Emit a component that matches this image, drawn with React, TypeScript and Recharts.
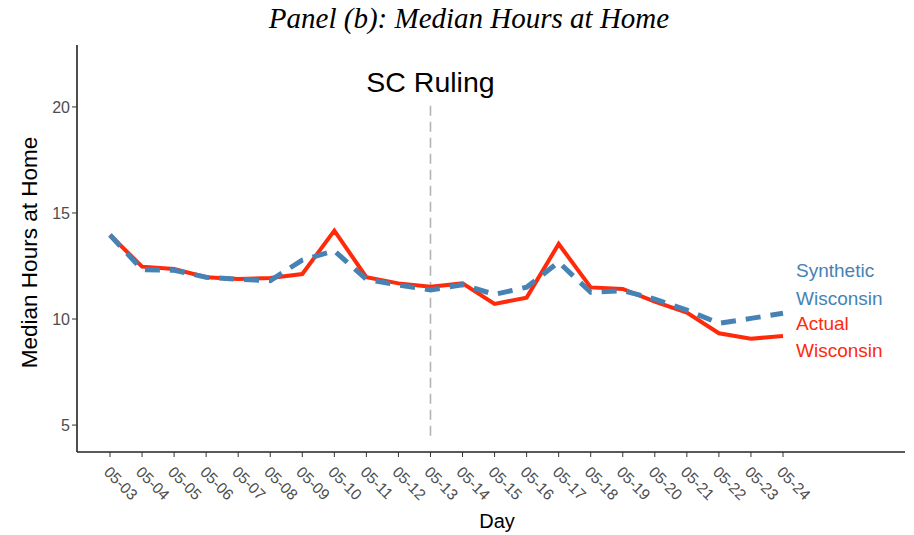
import React from 'react';
import { LineChart, Line, XAxis, YAxis, ReferenceLine, Label } from 'recharts';

const days = [
    '05-03', '05-04', '05-05', '05-06', '05-07', '05-08', '05-09', '05-10', '05-11', '05-12', '05-13',
    '05-14', '05-15', '05-16', '05-17', '05-18', '05-19', '05-20', '05-21', '05-22', '05-23', '05-24'
];
const actualWisconsin = [
    13.96, 12.47, 12.36, 11.97, 11.89, 11.93, 12.12, 14.17, 11.97, 11.68, 11.52,
    11.68, 10.71, 11.01, 13.54, 11.49, 11.42, 10.82, 10.30, 9.33, 9.07, 9.20
];
const syntheticWisconsin = [
    13.96, 12.33, 12.30, 11.97, 11.87, 11.81, 12.78, 13.22, 11.87, 11.60, 11.37,
    11.62, 11.16, 11.50, 12.68, 11.26, 11.34, 10.94, 10.42, 9.80, 10.03, 10.27
];
const yTicks = [5, 10, 15, 20];
const rulingDay = '05-13';
const rulingSpan = [4.5, 20.3];

const data = days.map((day, i) => ({
    day,
    actual: actualWisconsin[i],
    synthetic: syntheticWisconsin[i]
}));

const RED = '#ff2a0a';
const BLUE = '#4682b4';
const SANS = '"Liberation Sans", Arial, Helvetica, sans-serif';

const DayTick = (props: any) => {
    const { x, y, payload } = props;
    const tx = x - 7;
    const ty = y + 14;
    return (
        <text
            x={tx}
            y={ty}
            transform={`rotate(45, ${tx}, ${ty})`}
            textAnchor="start"
            fontSize={15.5}
            fill="#4d4d4d"
            fontFamily={SANS}
        >
            {payload.value}
        </text>
    );
};

export default function App() {
    return (
        <div style={{ position: 'absolute', left: 0, top: 0, width: 914, height: 535, background: '#fff', fontFamily: SANS }}>
            <LineChart width={914} height={535} data={data} margin={{ top: 45, right: 9, bottom: 23, left: 17 }}>
                <XAxis
                    dataKey="day"
                    interval={0}
                    padding={{ left: 33, right: 122 }}
                    axisLine={{ stroke: '#222', strokeWidth: 1.6 }}
                    tickLine={{ stroke: '#333' }}
                    tickSize={5}
                    tick={<DayTick />}
                    height={60}
                >
                    <Label
                        content={({ viewBox }: any) => (
                            <text
                                x={497}
                                y={viewBox.y + viewBox.height + 16}
                                textAnchor="middle"
                                fontSize={20}
                                fill="#000"
                                fontFamily={SANS}
                            >
                                Day
                            </text>
                        )}
                    />
                </XAxis>
                <YAxis
                    type="number"
                    domain={[3.73, 22.92]}
                    ticks={yTicks}
                    allowDataOverflow
                    width={60}
                    axisLine={{ stroke: '#222', strokeWidth: 1.6 }}
                    tickLine={{ stroke: '#333' }}
                    tickSize={5}
                    tick={{ fontSize: 16, fill: '#4d4d4d', fontFamily: SANS }}
                >
                    <Label
                        content={({ viewBox }: any) => {
                            const cx = 37;
                            const cy = viewBox.y + viewBox.height / 2 + 4;
                            return (
                                <text
                                    x={cx}
                                    y={cy}
                                    transform={`rotate(-90, ${cx}, ${cy})`}
                                    textAnchor="middle"
                                    fontSize={22.5}
                                    fill="#000"
                                    fontFamily={SANS}
                                >
                                    Median Hours at Home
                                </text>
                            );
                        }}
                    />
                </YAxis>
                <ReferenceLine
                    segment={[{ x: rulingDay, y: rulingSpan[0] }, { x: rulingDay, y: rulingSpan[1] }]}
                    stroke="#b3b3b3"
                    strokeWidth={1.6}
                    strokeDasharray="10 6"
                    label={{ value: 'SC Ruling', position: 'top', offset: 9, fontSize: 28.5, fill: '#000', fontFamily: SANS }}
                />
                {/* actual: solid red, drawn first */}
                <Line
                    type="linear"
                    dataKey="actual"
                    stroke={RED}
                    strokeWidth={4}
                    dot={false}
                    isAnimationActive={false}
                />
                {/* synthetic: dashed steelblue on top */}
                <Line
                    type="linear"
                    dataKey="synthetic"
                    stroke={BLUE}
                    strokeWidth={5}
                    strokeDasharray="15 10"
                    dot={false}
                    isAnimationActive={false}
                />
            </LineChart>
            <svg width={914} height={535} style={{ position: 'absolute', left: 0, top: 0, pointerEvents: 'none' }}>
                <text
                    x={469}
                    y={28}
                    textAnchor="middle"
                    fontSize={29}
                    fontStyle="italic"
                    fontFamily='"Liberation Serif", "Times New Roman", serif'
                    fill="#000"
                >
                    Panel (b): Median Hours at Home
                </text>
                <text x={796} y={277} fontSize={19} fill={BLUE} fontFamily={SANS}>Synthetic</text>
                <text x={796} y={305} fontSize={19} fill={BLUE} fontFamily={SANS}>Wisconsin</text>
                <text x={796} y={330} fontSize={19} fill={RED} fontFamily={SANS}>Actual</text>
                <text x={796} y={357} fontSize={19} fill={RED} fontFamily={SANS}>Wisconsin</text>
            </svg>
        </div>
    );
}
